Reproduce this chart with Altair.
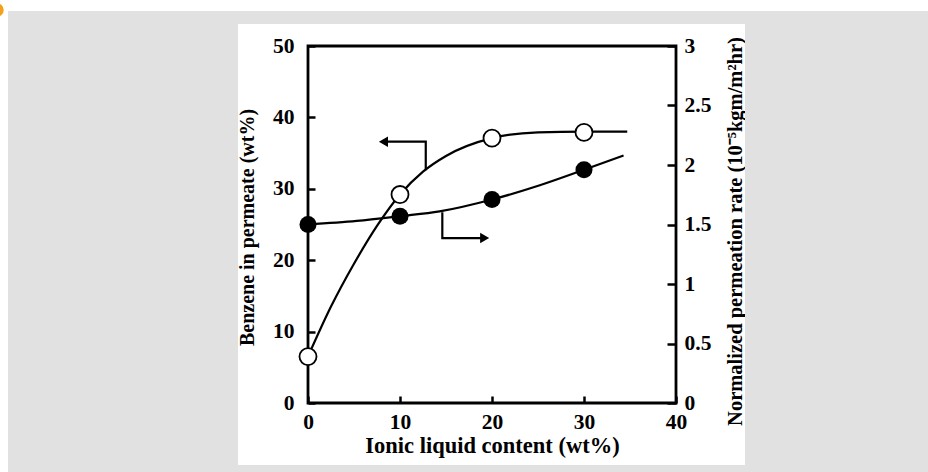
import altair as alt
import pandas as pd

# plot area size in pixels
W, H = 368, 357

# measured points
content = [0, 10, 20, 30]
benzene = [6.5, 29.2, 37.1, 37.9]
rate = [1.50, 1.57, 1.71, 1.96]

# fitted trend curves
benz_curve_x = [0, 2.5, 5, 7.5, 10, 12.5, 15, 20, 25, 30, 34.7]
benz_curve_y = [6.5, 13.5, 19.5, 24.8, 29.2, 32.4, 34.6, 37.1, 37.9, 38.0, 38.0]
rate_curve_x = [0, 5.3, 10, 14.3, 20, 25.2, 30, 34.3]
rate_curve_y = [1.50, 1.53, 1.57, 1.61, 1.71, 1.83, 1.96, 2.08]

# axis-pointer arrows (in left-axis units)
arrow_id = ["left", "left", "left", "right", "right", "right"]
arrow_step = [0, 1, 2, 0, 1, 2]
arrow_x = [12.8, 12.8, 8.2, 14.6, 14.6, 19.2]
arrow_y = [32.6, 36.6, 36.6, 26.7, 23.1, 23.1]
head_x = [8.2, 19.2]
head_y = [36.6, 23.1]
head_shape = ["triangle-left", "triangle-right"]

FONT = "Liberation Serif"
GRAY = "#e1e1e1"

points_df = pd.DataFrame({"content": content, "benzene": benzene, "rate": rate})
benz_curve = pd.DataFrame({"content": benz_curve_x, "benzene": benz_curve_y})
rate_curve = pd.DataFrame({"content": rate_curve_x, "rate": rate_curve_y})
arrows = pd.DataFrame({"id": arrow_id, "step": arrow_step, "x": arrow_x, "y": arrow_y})
heads = pd.DataFrame({"x": head_x, "y": head_y, "shape": head_shape})

xs = alt.Scale(domain=[0, 40], nice=False, zero=False)
yl = alt.Scale(domain=[0, 50], nice=False)
yr = alt.Scale(domain=[0, 3], nice=False)

x_axis = alt.Axis(
    orient="bottom", values=[0, 10, 20, 30, 40], offset=-7, tickSize=7,
    domain=False, grid=False, labelPadding=8, labelFlush=False,
    title="Ionic liquid content (wt%)", titleX=184, titleY=56,
    titleAlign="center", titleBaseline="alphabetic", titleFontSize=22.5,
)
yl_axis = alt.Axis(
    orient="left", values=[0, 10, 20, 30, 40, 50], offset=-7, tickSize=7,
    domain=False, grid=False, labelPadding=14, labelFlush=False,
    title="Benzene in permeate (wt%)", titleAngle=270, titleX=-68, titleY=181,
    titleAlign="center", titleBaseline="middle", titleFontSize=20,
)
yr_axis = alt.Axis(
    orient="right", values=[0, 0.5, 1, 1.5, 2, 2.5, 3], format="~g",
    offset=-9, tickSize=9, domain=False, grid=False, labelPadding=8,
    labelFlush=False,
    title="Normalized permeation rate (10⁻⁵kgm/m²hr)", titleAngle=270,
    titleX=68, titleY=185, titleAlign="center", titleBaseline="middle",
    titleFontSize=20.5,
)

one = alt.Data(values=[{}])


def strip(x0, x1, y0, y1):
    return alt.Chart(one).mark_rect(color=GRAY).encode(
        x=alt.value(x0), x2=alt.value(x1), y=alt.value(y0), y2=alt.value(y1)
    )


background = alt.layer(
    strip(-300, -70, -35, 426),
    strip(437, 620, -35, 426),
    strip(-70, 437, -35, -22),
    strip(-70, 437, 419, 426),
    alt.Chart(one).mark_circle(color="#f5a01a", opacity=1, size=180).encode(
        x=alt.value(-311), y=alt.value(-36)
    ),
)

benz_line = alt.Chart(benz_curve).mark_line(
    color="black", strokeWidth=2.2, interpolate="monotone"
).encode(
    x=alt.X("content:Q", scale=xs, axis=x_axis),
    y=alt.Y("benzene:Q", scale=yl, axis=yl_axis),
)

arrow_lines = alt.Chart(arrows).mark_line(color="black", strokeWidth=2.2).encode(
    x=alt.X("x:Q", scale=xs),
    y=alt.Y("y:Q", scale=yl),
    detail="id:N",
    order="step:Q",
)

arrow_heads = alt.Chart(heads).mark_point(
    filled=True, color="black", opacity=1, size=110
).encode(
    x=alt.X("x:Q", scale=xs),
    y=alt.Y("y:Q", scale=yl),
    shape=alt.Shape("shape:N", scale=None),
)

benz_points = alt.Chart(points_df).mark_point(
    shape="circle", filled=True, fill="white", stroke="black",
    strokeWidth=1.8, size=290, opacity=1,
).encode(
    x=alt.X("content:Q", scale=xs),
    y=alt.Y("benzene:Q", scale=yl),
)

rate_line = alt.Chart(rate_curve).mark_line(
    color="black", strokeWidth=2.2, interpolate="monotone"
).encode(
    x=alt.X("content:Q", scale=xs),
    y=alt.Y("rate:Q", scale=yr, axis=yr_axis),
)

rate_points = alt.Chart(points_df).mark_point(
    shape="circle", filled=True, color="black", size=290, opacity=1,
).encode(
    x=alt.X("content:Q", scale=xs),
    y=alt.Y("rate:Q", scale=yr),
)

left = alt.layer(benz_line, arrow_lines, arrow_heads, benz_points)
right = alt.layer(rate_line, rate_points)

chart = alt.layer(background, left, right).resolve_scale(
    y="independent"
).properties(
    width=W, height=H, background="white",
    autosize=alt.AutoSizeParams(type="none"),
    padding={"left": 308, "top": 46, "right": 252, "bottom": 69},
).configure_view(
    stroke="black", strokeWidth=2.8, fill="white"
).configure_axis(
    labelFont=FONT, labelFontWeight="bold", labelFontSize=21.5,
    labelColor="black", titleFont=FONT, titleFontWeight="bold",
    titleColor="black", tickColor="black",
    tickWidth=2.5, zindex=0,
)

chart.save("out.html", embed_options={"renderer": "svg", "actions": False})
